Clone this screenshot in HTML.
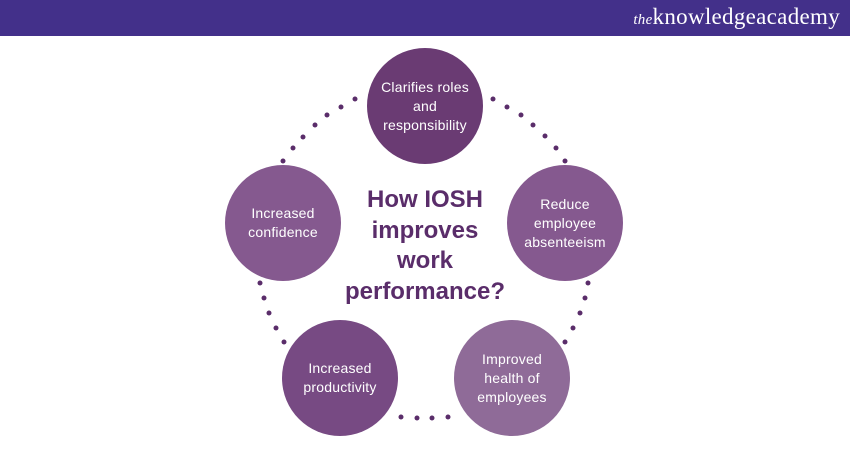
<!DOCTYPE html>
<html><head><meta charset="utf-8"><style>
body{margin:0;width:850px;height:450px;background:#fff;overflow:hidden;position:relative;font-family:"Liberation Sans",sans-serif}
.bar{position:absolute;left:0;top:0;width:850px;height:36px;background:#43308a}
.logo{position:absolute;right:10px;top:4px;color:#fff;font-family:"Liberation Serif",serif;font-size:23px;letter-spacing:0.3px}
.logo i{font-size:15px}
.c{position:absolute;border-radius:50%;color:#fff;display:flex;align-items:center;justify-content:center;text-align:center;font-size:14px;line-height:19px;width:116px;height:116px;letter-spacing:0.2px}
.t{position:absolute;left:335px;top:185px;width:180px;text-align:center;color:#5a2d6a;font-weight:bold;font-size:24px;line-height:30.5px}
</style></head><body>
<div class="bar"></div>
<div class="logo"><i>the</i>knowledgeacademy</div>
<svg width="850" height="450" style="position:absolute;left:0;top:0" fill="#5a2d6a">
<g>
<circle cx="355" cy="99" r="2.5"/><circle cx="341" cy="107" r="2.5"/><circle cx="327" cy="115" r="2.5"/><circle cx="315" cy="125" r="2.5"/><circle cx="303" cy="137" r="2.5"/><circle cx="293" cy="148" r="2.5"/><circle cx="283" cy="161" r="2.5"/>
<circle cx="493" cy="99" r="2.5"/><circle cx="507" cy="107" r="2.5"/><circle cx="521" cy="115" r="2.5"/><circle cx="533" cy="125" r="2.5"/><circle cx="545" cy="136" r="2.5"/><circle cx="556" cy="148" r="2.5"/><circle cx="565" cy="161" r="2.5"/>
<circle cx="260" cy="283" r="2.5"/><circle cx="264" cy="298" r="2.5"/><circle cx="269" cy="313" r="2.5"/><circle cx="276" cy="328" r="2.5"/><circle cx="284" cy="342" r="2.5"/>
<circle cx="588" cy="283" r="2.5"/><circle cx="585" cy="298" r="2.5"/><circle cx="580" cy="313" r="2.5"/><circle cx="573" cy="328" r="2.5"/><circle cx="565" cy="342" r="2.5"/>
<circle cx="401" cy="417" r="2.5"/><circle cx="417" cy="418" r="2.5"/><circle cx="432" cy="418" r="2.5"/><circle cx="448" cy="417" r="2.5"/>
</g></svg>
<div class="c" style="left:367px;top:48px;background:#6a3b73">Clarifies roles<br>and<br>responsibility</div>
<div class="c" style="left:507px;top:165px;background:#85598f">Reduce<br>employee<br>absenteeism</div>
<div class="c" style="left:225px;top:165px;background:#85598f">Increased<br>confidence</div>
<div class="c" style="left:282px;top:320px;background:#774a83">Increased<br>productivity</div>
<div class="c" style="left:454px;top:320px;background:#8f6b98">Improved<br>health of<br>employees</div>
<div class="t">How IOSH<br>improves<br>work<br>performance?</div>
</body></html>
